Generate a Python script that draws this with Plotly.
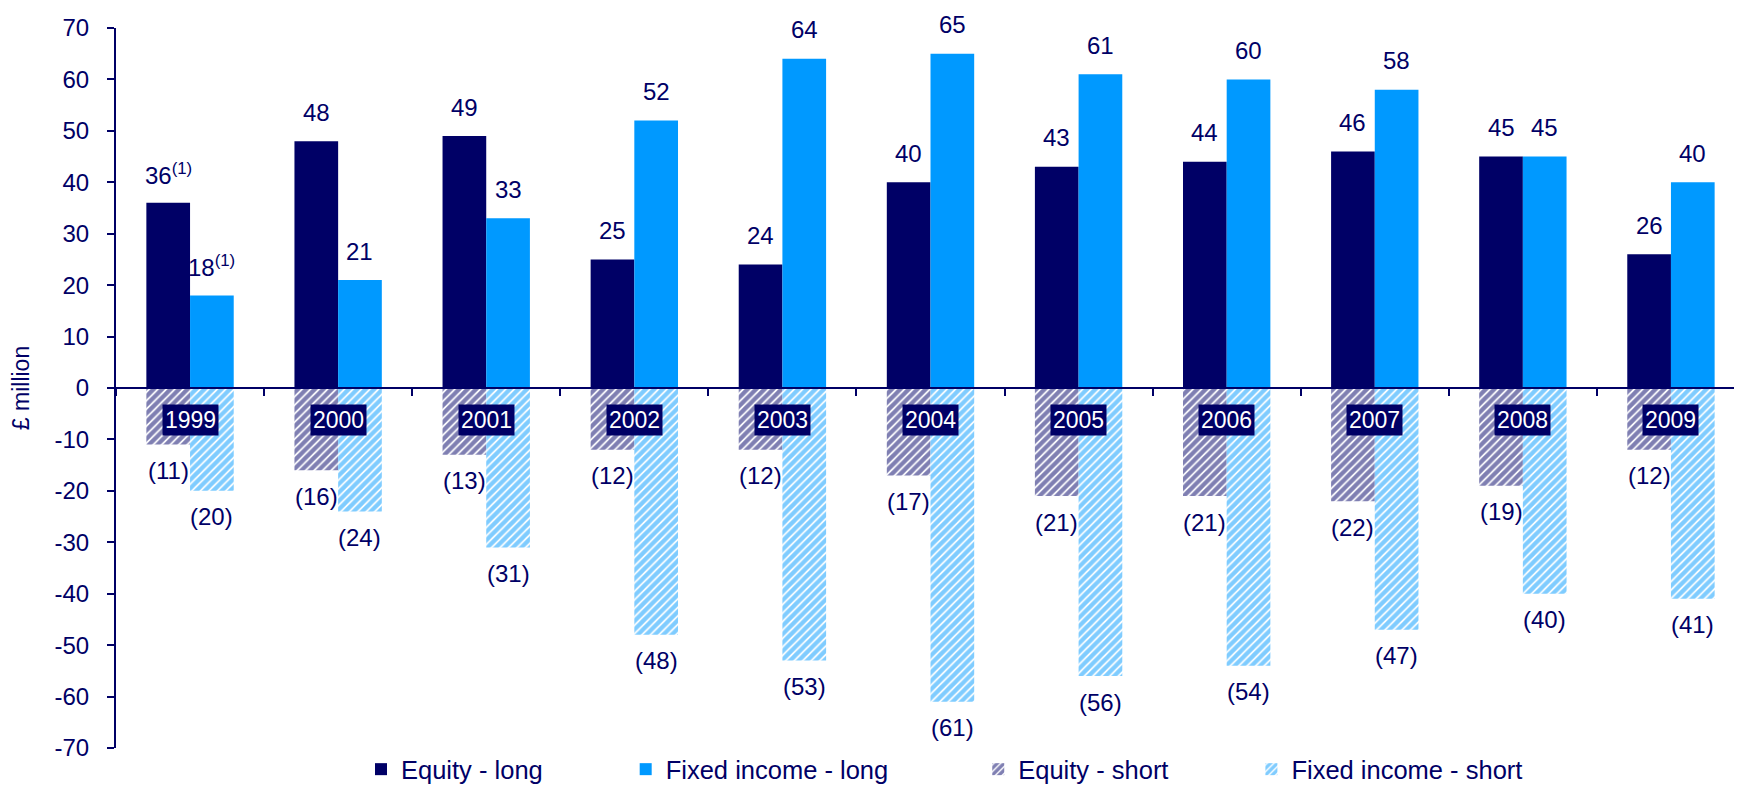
import plotly.graph_objects as go

years = ["1999", "2000", "2001", "2002", "2003", "2004", "2005", "2006", "2007", "2008", "2009"]
equity_long = [36, 48, 49, 25, 24, 40, 43, 44, 46, 45, 26]
fixed_long = [18, 21, 33, 52, 64, 65, 61, 60, 58, 45, 40]
equity_short = [-11, -16, -13, -12, -12, -17, -21, -21, -22, -19, -12]
fixed_short = [-20, -24, -31, -48, -53, -61, -56, -54, -47, -40, -41]
footnote_years = ["1999"]
y_ticks = [-70, -60, -50, -40, -30, -20, -10, 0, 10, 20, 30, 40, 50, 60, 70]

NAVY = "#000066"
BLUE = "#0099FF"
FONT = "Liberation Sans, Arial, sans-serif"
FS = 24
BW = 0.295

idx = list(range(len(years)))
xe = [i - BW / 2 for i in idx]
xf = [i + BW / 2 for i in idx]

def hatch(col):
    return dict(color="white", line=dict(width=0),
                pattern=dict(shape="/", fgcolor=col, bgcolor="white", size=6, solidity=0.7))

fig = go.Figure()
fig.add_trace(go.Bar(x=xe, y=equity_long, width=BW, name="Equity - long",
                     marker=dict(color=NAVY, line=dict(width=0))))
fig.add_trace(go.Bar(x=xf, y=fixed_long, width=BW, name="Fixed income - long",
                     marker=dict(color=BLUE, line=dict(width=0))))
fig.add_trace(go.Bar(x=xe, y=equity_short, width=BW, name="Equity - short", marker=hatch(NAVY)))
fig.add_trace(go.Bar(x=xf, y=fixed_short, width=BW, name="Fixed income - short", marker=hatch(BLUE)))

ann = []
def lab(v, yr):
    s = str(v) if v >= 0 else "(" + str(-v) + ")"
    if yr in footnote_years and v >= 0:
        s += "<sup>(1)</sup>"
    return s

for i, yr in enumerate(years):
    for xs, vals in ((xe, equity_long), (xf, fixed_long), (xe, equity_short), (xf, fixed_short)):
        v = vals[i]
        ann.append(dict(x=xs[i], y=v, xref="x", yref="y", text=lab(v, yr), showarrow=False,
                        yanchor="middle", yshift=29 if v >= 0 else -26,
                        font=dict(family=FONT, size=FS, color=NAVY)))
    ann.append(dict(x=i, y=-6.3, xref="x", yref="y", text=yr, showarrow=False,
                    bgcolor=NAVY, borderpad=2,
                    font=dict(family=FONT, size=23, color="white")))

fig.update_layout(
    width=1742, height=790,
    margin=dict(l=108, r=5, t=20, b=36),
    paper_bgcolor="white", plot_bgcolor="white",
    barmode="overlay",
    font=dict(family=FONT, size=FS, color=NAVY),
    annotations=ann,
    showlegend=True,
    legend=dict(orientation="h", x=(353 - 108) / 1629, xanchor="left",
                y=-(776 - 754) / 734, yanchor="middle",
                font=dict(family=FONT, size=25.5, color=NAVY),
                bgcolor="rgba(0,0,0,0)", itemwidth=30, traceorder="normal"),
    xaxis=dict(range=[-0.5, len(years) - 0.5], anchor="free", position=0.5,
               showline=True, linecolor=NAVY, linewidth=2,
               ticks="outside", ticklen=7, tickwidth=2, tickcolor=NAVY,
               tickvals=[i - 0.5 for i in range(len(years) + 1)],
               showticklabels=False, showgrid=False, zeroline=False),
    yaxis=dict(range=[-70, 70], tickvals=y_ticks, ticktext=[str(t) for t in y_ticks],
               showline=True, linecolor=NAVY, linewidth=2,
               ticks="outside", ticklen=7, tickwidth=2, tickcolor=NAVY,
               ticklabelstandoff=13,
               showgrid=False, zeroline=False,
               tickfont=dict(family=FONT, size=FS, color=NAVY),
               title=dict(text="£ million", standoff=18,
                          font=dict(family=FONT, size=23, color=NAVY))),
)

# pad legend entries to approximate the reference spacing
pads = [11, 12, 11, 0]
for tr, p in zip(fig.data, pads):
    tr.name = tr.name + "\u00a0" * p

fig.write_html("out.html")
